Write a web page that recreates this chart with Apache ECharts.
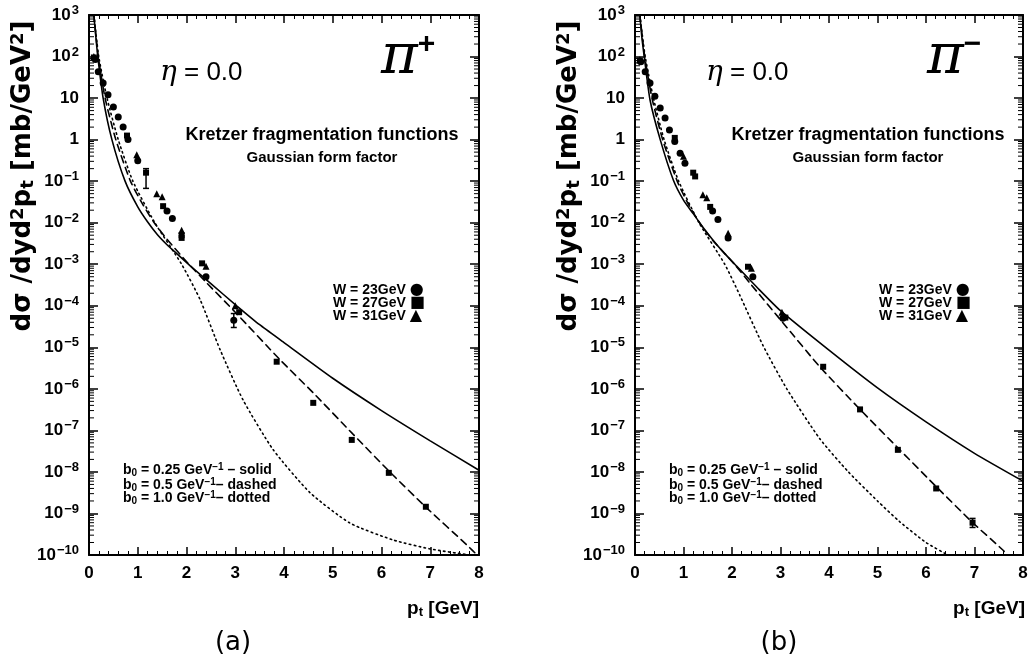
<!DOCTYPE html>
<html>
<head>
<meta charset="utf-8">
<title>pion pt spectra</title>
<style>html,body{margin:0;padding:0;background:#fff}#main{width:1034px;height:667px}</style>
</head>
<body>
<div id="main"></div>
<script src="https://cdn.jsdelivr.net/npm/echarts@6/dist/echarts.min.js"></script>
<script>
// panel (a) pi+ : model curves [pt, value]
var solidA = [[0.1,1000],[0.14,300],[0.18,100],[0.29,10],[0.47,1],[0.74,0.1],[1.0,0.024],[1.2,0.0105],[1.4,5.2e-3],[1.6,2.95e-3],[1.8,1.8e-3],[2.07,9.3e-4],[2.5,3.4e-4],[3.03,1e-4],[3.5,3.5e-5],[4.0,1.3e-5],[5.0,1.8e-6],[6.0,3e-7],[7.0,5.6e-8],[8.0,1.1e-8]];
var dashedA = [[0.1,1000],[0.19,100],[0.33,10],[0.55,1],[0.85,0.1],[1.1,0.028],[1.32,0.0107],[1.6,4e-3],[2.05,1e-3],[2.4,3.7e-4],[3.0,7e-5],[3.92,5e-6],[4.6,8e-7],[5.42,8e-8],[6.17,1e-8],[6.93,1.35e-9],[7.75,1.75e-10],[8.0,9e-11]];
var dottedA = [[0.1,1000],[0.2,100],[0.37,10],[0.6,1],[0.9,0.1],[1.35,0.01],[1.9,1e-3],[2.28,1.4e-4],[2.69,8.7e-6],[3.16,5.4e-7],[3.78,3.4e-8],[4.53,3.2e-9],[5.35,5.9e-10],[6.24,2.3e-10],[7.0,1.4e-10],[7.8,1e-10]];
// panel (a) data points, W = 23 / 27 / 31 GeV
var circA = [[0.13,85],[0.19,43],[0.29,23],[0.39,12],[0.5,6.1],[0.6,3.5],[0.7,2.0],[0.8,1.0],[1.0,0.31],[1.6,0.019],[1.71,0.0126],[2.4,5e-4],[2.97,4.5e-5]];
var sqA = [[0.1,95],[0.78,1.25],[1.17,0.16],[1.52,0.025],[1.9,5e-3],[1.9,4.3e-3],[2.32,1.05e-3],[3.08,7e-5],[3.85,4.5e-6],[4.6,4.6e-7],[5.39,5.9e-8],[6.15,9.5e-9],[6.91,1.45e-9]];
var triA = [[0.1,100],[0.98,0.43],[1.39,0.05],[1.5,0.042],[1.9,6.6e-3],[2.4,9e-4],[3.0,1e-4]];
var errA = [[1.17,0.067,0.2],[2.97,3e-5,6.5e-5]];

// panel (b) pi-
var solidB = [[0.1,1000],[0.14,300],[0.19,100],[0.31,9],[0.52,1],[0.79,0.107],[1.0,0.035],[1.2,1.65e-2],[1.4,7.8e-3],[1.61,3.8e-3],[1.85,1.8e-3],[2.1,8.9e-4],[2.5,2.9e-4],[3.0,7.6e-5],[4.0,8.5e-6],[5.0,1.05e-6],[6.0,1.6e-7],[7.0,2.8e-8],[8.0,6e-9]];
var dashedB = [[0.1,1000],[0.2,100],[0.35,10],[0.57,1],[0.87,0.1],[1.1,0.028],[1.33,0.01],[1.6,3.8e-3],[2.05,1e-3],[2.37,3.5e-4],[3.05,3.9e-5],[3.81,3.4e-6],[4.64,3.2e-7],[5.46,3.4e-8],[6.23,4.2e-9],[6.97,5.9e-10],[7.59,1.3e-10],[7.75,8e-11]];
var dottedB = [[0.1,1000],[0.21,100],[0.38,10],[0.6,1],[0.9,0.1],[1.32,1e-2],[1.85,1e-3],[2.16,1.8e-4],[2.64,1.1e-5],[3.13,1e-6],[3.81,6.3e-8],[4.4,1e-8],[5.0,2e-9],[5.46,6.3e-10],[6.0,2e-10],[6.45,1e-10]];
var circB = [[0.12,75],[0.21,43],[0.31,23],[0.41,11],[0.52,5.8],[0.62,3.3],[0.71,1.7],[0.82,0.9],[0.93,0.47],[1.03,0.27],[1.6,0.019],[1.71,0.012],[1.92,4.3e-3],[2.43,5e-4],[3.05,5e-5]];
var sqB = [[0.1,80],[0.82,1.1],[1.2,0.16],[1.24,0.13],[1.55,0.024],[2.33,8.7e-4],[3.1,5.2e-5],[3.88,3.4e-6],[4.64,3.2e-7],[5.42,3.4e-8],[6.21,4e-9],[6.96,6e-10]];
var triB = [[0.1,85],[1.0,0.4],[1.4,0.047],[1.48,0.04],[1.92,5.6e-3],[2.4,8e-4],[3.03,7e-5]];
var errB = [[6.96,4.6e-10,7.6e-10]];

// minor ticks of the log axes (2..9 x 10^n)
var minorVals = [];
for (var n = -10; n < 3; n++) {
    for (var k = 2; k < 10; k++) minorVals.push([0, k * Math.pow(10, n)]);
}

var FONT = 'Liberation Sans';
var myChart = echarts.init(document.getElementById('main'));

function xAx(g, pos, lab) {
    return {
        type: 'value', gridIndex: g, position: pos, min: 0, max: 8, interval: 1,
        axisLine: {onZero: false, lineStyle: {color: '#000', width: 2}},
        axisTick: {inside: true, length: 8, lineStyle: {color: '#000', width: 1.5}},
        minorTick: {show: true, splitNumber: 5, length: 4, lineStyle: {color: '#000', width: 1}},
        axisLabel: {show: lab, color: '#000', fontSize: 17, fontWeight: 'bold', fontFamily: FONT, margin: 10},
        splitLine: {show: false}
    };
}
function yAx(g, pos, lab) {
    return {
        type: 'log', logBase: 10, gridIndex: g, position: pos, min: 1e-10, max: 1000,
        interval: 1, splitNumber: 13,
        axisLine: {onZero: false, lineStyle: {color: '#000', width: 2}},
        axisTick: {inside: true, length: 9, interval: 0, lineStyle: {color: '#000', width: 1.5}},
        axisLabel: {
            show: lab, color: '#000', fontSize: 17, fontWeight: 'bold', fontFamily: FONT, margin: 10, interval: 0,
            hideOverlap: false,
            formatter: function (v) {
                var e = Math.round(Math.log(v) / Math.LN10);
                if (e === 0) return '1';
                if (e === 1) return '10';
                return '10{sup|' + String(e).replace('-', '\u2212') + '}';
            },
            rich: {sup: {fontSize: 13, fontWeight: 'bold', fontFamily: FONT, color: '#000', verticalAlign: 'top', padding: [0, 0, 9, 1]}}
        },
        splitLine: {show: false}
    };
}

function curve(d, g, type) {
    return {
        type: 'line', xAxisIndex: 2 * g, yAxisIndex: 2 * g, data: d, symbol: 'none',
        smooth: 0.2, silent: true, animation: false,
        lineStyle: {color: '#000', width: 1.6, type: type, cap: type === 'solid' ? 'butt' : 'round'}
    };
}
function pts(d, g, sym, size) {
    return {
        type: 'scatter', xAxisIndex: 2 * g, yAxisIndex: 2 * g, data: d, symbol: sym, symbolSize: size,
        itemStyle: {color: '#000', opacity: 1}, silent: true, animation: false
    };
}
function errBars(d, g) {
    return {
        type: 'custom', xAxisIndex: 2 * g, yAxisIndex: 2 * g, data: d, silent: true, animation: false,
        encode: {x: 0, y: [1, 2]},
        renderItem: function (params, api) {
            var lo = api.coord([api.value(0), api.value(1)]);
            var hi = api.coord([api.value(0), api.value(2)]);
            var st = {stroke: '#000', lineWidth: 1.5};
            return {type: 'group', children: [
                {type: 'line', shape: {x1: lo[0], y1: lo[1], x2: hi[0], y2: hi[1]}, style: st},
                {type: 'line', shape: {x1: lo[0] - 3, y1: lo[1], x2: lo[0] + 3, y2: lo[1]}, style: st},
                {type: 'line', shape: {x1: hi[0] - 3, y1: hi[1], x2: hi[0] + 3, y2: hi[1]}, style: st}
            ]};
        }
    };
}
function minorTicks(g) {
    return {
        type: 'custom', xAxisIndex: 2 * g, yAxisIndex: 2 * g, data: minorVals, silent: true, animation: false,
        renderItem: function (params, api) {
            var p = api.coord([api.value(0), api.value(1)]);
            var cs = params.coordSys;
            var st = {stroke: '#000', lineWidth: 1};
            return {type: 'group', children: [
                {type: 'line', shape: {x1: cs.x, y1: p[1], x2: cs.x + 5, y2: p[1]}, style: st},
                {type: 'line', shape: {x1: cs.x + cs.width, y1: p[1], x2: cs.x + cs.width - 5, y2: p[1]}, style: st}
            ]};
        }
    };
}

function txt(x, y, text, size, extra) {
    var st = {text: text, fill: '#000', fontSize: size, fontWeight: 'bold', fontFamily: FONT,
        align: 'left', verticalAlign: 'middle'};
    for (var k in extra) st[k] = extra[k];
    return {type: 'text', x: x, y: y, style: st, silent: true};
}
function smallRich(sz, fam) {
    var f = fam || FONT;
    return {
        sub: {fontSize: Math.round(sz * 0.68), fontWeight: 'bold', fontFamily: f, fill: '#000', verticalAlign: 'bottom', padding: [Math.round(sz * 0.3), 0, 0, 0]},
        sup: {fontSize: Math.round(sz * 0.68), fontWeight: 'bold', fontFamily: f, fill: '#000', verticalAlign: 'top', padding: [0, 0, Math.round(sz * 0.4), 0]}
    };
}
var markRich = {m: {fontSize: 16, fontFamily: 'DejaVu Sans', fill: '#000'}};
function panelText(ox, sign, tag) {
    var r14 = smallRich(14);
    return [
        txt(ox + 71, 73, '{i|\u03b7} = 0.0', 26, {fontWeight: 'normal', rich: {i: {fontSize: 28, fontStyle: 'italic', fontFamily: 'DejaVu Serif', fill: '#000'}}}),
        txt(ox + 292, 58, '{p|\u03c0}{s|' + sign + '}', 48, {rich: {
            p: {fontSize: 56, fontFamily: 'DejaVu Serif', fontStyle: 'italic', fill: '#000'},
            s: {fontSize: 30, fontWeight: 'bold', fontFamily: FONT, fill: '#000', verticalAlign: 'top', padding: [0, 0, 22, 0]}}}),
        txt(ox + 233, 135, 'Kretzer fragmentation functions', 18, {align: 'center'}),
        txt(ox + 233, 158, 'Gaussian form factor', 15, {align: 'center'}),
        txt(ox + 244, 290, 'W = 23GeV {m|\u25cf}', 14, {rich: markRich}),
        txt(ox + 244, 303, 'W = 27GeV {m|\u25a0}', 14, {rich: markRich}),
        txt(ox + 244, 316, 'W = 31GeV {m|\u25b2}', 14, {rich: markRich}),
        txt(ox + 34, 470, 'b{sub|0} = 0.25 GeV{sup|\u22121} \u2013 solid', 14, {rich: r14}),
        txt(ox + 34, 485, 'b{sub|0} = 0.5 GeV{sup|\u22121}\u2013 dashed', 14, {rich: r14}),
        txt(ox + 34, 498, 'b{sub|0} = 1.0 GeV{sup|\u22121}\u2013 dotted', 14, {rich: r14}),
        txt(ox + 390, 609, 'p{sub|t} [GeV]', 19, {align: 'right', rich: smallRich(19)}),
        txt(ox - 66, 176, 'd\u03c3 /dyd{sup|2}p{sub|t} [mb/GeV{sup|2}]', 26,
            {align: 'center', fontFamily: 'DejaVu Sans', rich: smallRich(26, 'DejaVu Sans')}),
        txt(ox + 144, 643, tag, 26, {align: 'center', fontWeight: 'normal', fontFamily: 'DejaVu Sans'})
    ];
}

var gfx = panelText(89, '+', '(a)').concat(panelText(635, '\u2212', '(b)'));
// rotate the y titles
gfx[11].rotation = Math.PI / 2;
gfx[24].rotation = Math.PI / 2;

var option = {
    backgroundColor: '#fff',
    animation: false,
    grid: [
        {left: 89, top: 15, width: 390, height: 540},
        {left: 635, top: 15, width: 388, height: 540}
    ],
    xAxis: [xAx(0, 'bottom', true), xAx(0, 'top', false), xAx(1, 'bottom', true), xAx(1, 'top', false)],
    yAxis: [yAx(0, 'left', true), yAx(0, 'right', false), yAx(1, 'left', true), yAx(1, 'right', false)],
    series: [
        minorTicks(0), minorTicks(1),
        curve(solidA, 0, 'solid'), curve(dashedA, 0, [7, 5]), curve(dottedA, 0, [1.5, 3.5]),
        curve(solidB, 1, 'solid'), curve(dashedB, 1, [7, 5]), curve(dottedB, 1, [1.5, 3.5]),
        errBars(errA, 0), errBars(errB, 1),
        pts(circA, 0, 'circle', 7), pts(sqA, 0, 'rect', 6), pts(triA, 0, 'triangle', 7),
        pts(circB, 1, 'circle', 7), pts(sqB, 1, 'rect', 6), pts(triB, 1, 'triangle', 7)
    ],
    graphic: gfx
};
myChart.setOption(option);
</script>
</body>
</html>
